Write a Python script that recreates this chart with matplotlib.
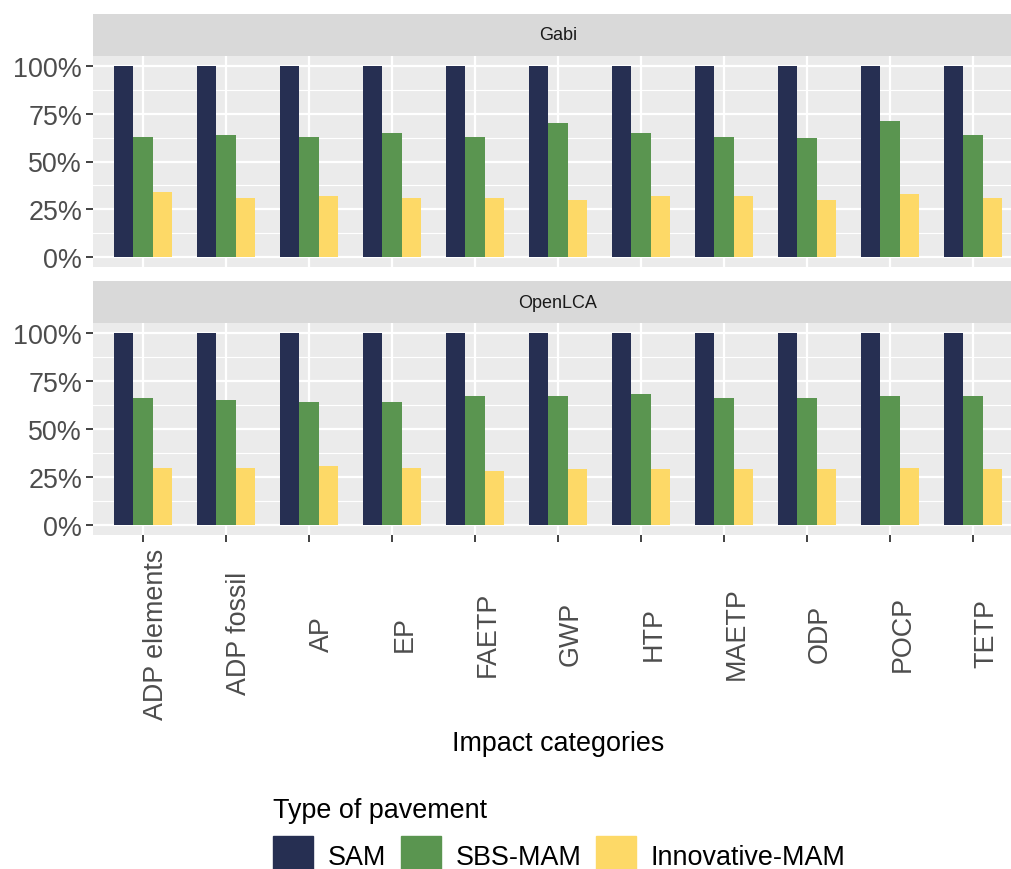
import matplotlib
matplotlib.use("Agg")
import matplotlib.pyplot as plt
import matplotlib.patches as mpatches
import numpy as np

plt.rcParams['font.family'] = ['Liberation Sans', 'DejaVu Sans']

categories = ["ADP elements", "ADP fossil", "AP", "EP", "FAETP", "GWP",
              "HTP", "MAETP", "ODP", "POCP", "TETP"]
pavements = ["SAM", "SBS-MAM", "Innovative-MAM"]
colors = ["#262F52", "#5A9550", "#FDD967"]

# relative impact (SAM = 100 %)
gabi_sam = [100, 100, 100, 100, 100, 100, 100, 100, 100, 100, 100]
gabi_sbs = [63, 64, 63, 65, 63, 70, 65, 63, 62, 71, 64]
gabi_inn = [34, 31, 32, 31, 31, 30, 32, 32, 30, 33, 31]

olca_sam = [100, 100, 100, 100, 100, 100, 100, 100, 100, 100, 100]
olca_sbs = [66, 65, 64, 64, 67, 67, 68, 66, 66, 67, 67]
olca_inn = [30, 30, 31, 30, 28, 29, 29, 29, 29, 30, 29]

panels = [("Gabi", [gabi_sam, gabi_sbs, gabi_inn]),
          ("OpenLCA", [olca_sam, olca_sbs, olca_inn])]

W, H = 1011, 870
fig = plt.figure(figsize=(W / 100, H / 100), dpi=100)

def box(x0, y0, x1, y1):
    # pixel box (top-left origin) -> figure fraction
    return [x0 / W, 1 - y1 / H, (x1 - x0) / W, (y1 - y0) / H]

left, right = 93.2, 1022.8
layout = [(15, 57, 268), (282, 324, 536)]

x = np.arange(len(categories))
bw = 0.7 / 3
tick_fs = 19.4

for (name, series), (s0, s1, p1) in zip(panels, layout):
    sax = fig.add_axes(box(left, s0, right, s1))
    sax.set_facecolor("#D9D9D9")
    sax.set_xticks([])
    sax.set_yticks([])
    for sp in sax.spines.values():
        sp.set_visible(False)
    sax.text(0.5, 0.5, name, transform=sax.transAxes, ha="center",
             va="center", fontsize=13, color="#1A1A1A")

    ax = fig.add_axes(box(left, s1, right, p1))
    ax.set_facecolor("#EBEBEB")
    for sp in ax.spines.values():
        sp.set_visible(False)
    ax.set_axisbelow(True)
    ax.set_yticks([0, 0.25, 0.5, 0.75, 1.0])
    ax.set_yticks([0.125, 0.375, 0.625, 0.875], minor=True)
    ax.set_yticklabels(["0%", "25%", "50%", "75%", "100%"])
    ax.grid(which="major", color="white", linewidth=1.6)
    ax.grid(which="minor", axis="y", color="white", linewidth=0.8)
    ax.tick_params(axis="y", which="minor", length=0)
    ax.tick_params(axis="both", which="major", length=5, width=1.3,
                   color="#333333", labelsize=tick_fs, labelcolor="#4D4D4D",
                   pad=3)
    for k, vals in enumerate(series):
        ax.bar(x + (k - 1) * bw, np.array(vals) / 100, width=bw,
               color=colors[k], label=pavements[k])
    ax.set_xlim(-0.6, len(categories) - 0.4)
    ax.set_ylim(-0.05, 1.05)
    ax.set_xticks(x)
    if name == "Gabi":
        ax.tick_params(axis="x", length=0, labelbottom=False)
    else:
        # rotated labels centred vertically in the label band
        ax.set_xticklabels(categories, rotation=90, ha="left", va="center",
                           rotation_mode="default")
        ax.tick_params(axis="x", pad=65.5)
        ax.set_xlabel("Impact categories", fontsize=tick_fs, color="black",
                      labelpad=8)

handles = [mpatches.Patch(color=c, label=p) for c, p in zip(colors, pavements)]
leg = fig.legend(handles=handles, ncol=3, title="Type of pavement",
                 loc="upper left", bbox_to_anchor=(273 / W, 1 - 798 / H),
                 frameon=False, fontsize=tick_fs, title_fontsize=tick_fs,
                 handlelength=1.48, handleheight=1.75, handletextpad=0.55,
                 columnspacing=0.55, borderpad=0, borderaxespad=0)
leg._legend_box.align = "left"

fig.savefig("out.png", dpi=100)
